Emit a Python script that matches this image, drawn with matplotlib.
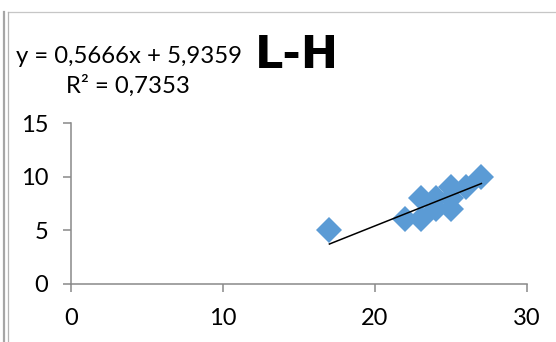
import matplotlib
matplotlib.use("Agg")
import matplotlib.pyplot as plt
from matplotlib.lines import Line2D
import numpy as np

# Scatter data (L vs H)
x_vals = [17, 22, 23, 23, 24, 24, 25, 25, 25, 26, 27]
y_vals = [5, 6, 6, 8, 7, 8, 7, 8, 9, 9, 10]

# Linear trendline parameters
slope = 0.5666
intercept = -5.9359

equation_text = "y = 0,5666x + 5,9359"
r2_text = "R² = 0,7353"
title_text = "L-H"

x_ticks = [0, 10, 20, 30]
y_ticks = [0, 5, 10, 15]

W, H = 556, 342
fig = plt.figure(figsize=(W / 100, H / 100), dpi=100)
fig.patch.set_facecolor("white")

def fx(px):
    return px / W

def fy(py):
    return 1 - py / H

ax = fig.add_axes([fx(71), fy(283.5), fx(527) - fx(71), fy(123.3) - fy(283.5)])
ax.set_xlim(0, 30)
ax.set_ylim(0, 15)
ax.set_xticks(x_ticks)
ax.set_yticks(y_ticks)

axis_grey = "#898989"
for side in ("top", "right"):
    ax.spines[side].set_visible(False)
for side in ("left", "bottom"):
    ax.spines[side].set_color(axis_grey)
    ax.spines[side].set_linewidth(1.1)
ax.tick_params(axis="both", direction="out", length=5.5, width=1.1,
               color=axis_grey, labelsize=17, labelcolor="black")
ax.tick_params(axis="x", pad=12)
ax.tick_params(axis="y", pad=11)
for lbl in ax.get_xticklabels() + ax.get_yticklabels():
    lbl.set_fontfamily("Lato")

ax.plot(x_vals, y_vals, linestyle="none", marker="D", markersize=13.5,
        markerfacecolor="#5b9bd5", markeredgewidth=0, clip_on=False, zorder=3)

tx = np.array([min(x_vals), max(x_vals)])
ax.plot(tx, slope * tx + intercept, color="black", linewidth=1.1, zorder=4)

fig.text(fx(16), fy(63.3), equation_text, family="Lato", fontsize=17.2,
         ha="left", va="baseline")
fig.text(fx(127.5), fy(92.5), r2_text, family="Lato", fontsize=17.2,
         ha="center", va="baseline")
fig.text(fx(297), fy(68), title_text, family="DejaVu Sans", fontweight="bold",
         fontsize=32, ha="center", va="baseline")

# Chart area frame and the double rule on the left edge
fig.add_artist(Line2D([fx(7.5), fx(W)], [fy(11.5), fy(11.5)],
                      color="#c6c6c6", linewidth=0.9))
fig.add_artist(Line2D([fx(7.5), fx(7.5)], [fy(11.5), fy(H)],
                      color="#b4b4b4", linewidth=0.9))
fig.add_artist(Line2D([fx(3.5), fx(3.5)], [fy(11.5), fy(H)],
                      color="#a6a6a6", linewidth=1.6))

fig.savefig("out.png", dpi=100, facecolor="white")
